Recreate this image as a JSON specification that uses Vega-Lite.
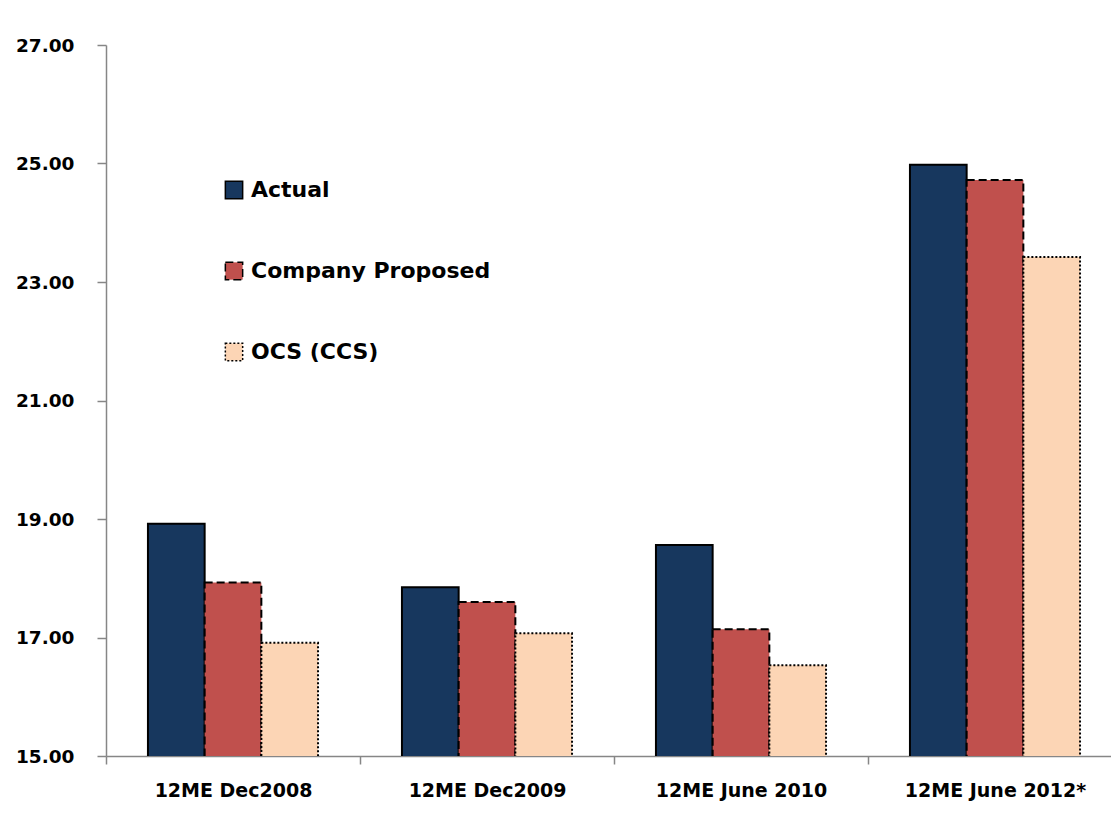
{
  "$schema": "https://vega.github.io/schema/vega-lite/v6.json",
  "autosize": {"type": "none"},
  "padding": {"left": 106, "top": 45, "right": 0, "bottom": 58},
  "width": 1016,
  "height": 711,
  "background": "white",
  "config": {"view": {"stroke": null}, "font": "DejaVu Sans"},
  "data": {
    "values": [
      {"period": "12ME Dec2008", "series": "Actual", "value": 18.92},
      {"period": "12ME Dec2008", "series": "Company Proposed", "value": 17.93},
      {"period": "12ME Dec2008", "series": "OCS (CCS)", "value": 16.91},
      {"period": "12ME Dec2009", "series": "Actual", "value": 17.85},
      {"period": "12ME Dec2009", "series": "Company Proposed", "value": 17.6},
      {"period": "12ME Dec2009", "series": "OCS (CCS)", "value": 17.07},
      {"period": "12ME June 2010", "series": "Actual", "value": 18.56},
      {"period": "12ME June 2010", "series": "Company Proposed", "value": 17.14},
      {"period": "12ME June 2010", "series": "OCS (CCS)", "value": 16.53},
      {"period": "12ME June 2012*", "series": "Actual", "value": 24.98},
      {"period": "12ME June 2012*", "series": "Company Proposed", "value": 24.72},
      {"period": "12ME June 2012*", "series": "OCS (CCS)", "value": 23.42}
    ]
  },
  "mark": {"type": "bar", "stroke": "black", "strokeWidth": 2, "clip": true},
  "encoding": {
    "x": {
      "field": "period",
      "type": "nominal",
      "sort": ["12ME Dec2008", "12ME Dec2009", "12ME June 2010", "12ME June 2012*"],
      "scale": {"paddingInner": 0, "paddingOuter": 0},
      "axis": {
        "title": null,
        "labelAngle": 0,
        "labelFont": "DejaVu Sans",
        "labelFontWeight": "bold",
        "labelFontSize": 19,
        "labelColor": "black",
        "labelPadding": 17,
        "labelLimit": 400,
        "domainColor": "#868686",
        "domainWidth": 1.5,
        "tickColor": "#868686",
        "tickWidth": 1.5,
        "tickSize": 8,
        "tickBand": "extent"
      }
    },
    "xOffset": {
      "field": "series",
      "type": "nominal",
      "sort": ["Actual", "Company Proposed", "OCS (CCS)"],
      "scale": {"paddingInner": 0, "paddingOuter": 0.74}
    },
    "y": {
      "field": "value",
      "type": "quantitative",
      "scale": {"domain": [15, 27], "zero": false, "nice": false},
      "axis": {
        "title": null,
        "values": [15, 17, 19, 21, 23, 25, 27],
        "format": ".2f",
        "grid": false,
        "labelFont": "DejaVu Sans",
        "labelFontWeight": "bold",
        "labelFontSize": 18.5,
        "labelColor": "black",
        "labelPadding": 23,
        "domainColor": "#868686",
        "domainWidth": 1.5,
        "tickColor": "#868686",
        "tickWidth": 1.5,
        "tickSize": 9
      }
    },
    "fill": {
      "field": "series",
      "type": "nominal",
      "scale": {
        "domain": ["Actual", "Company Proposed", "OCS (CCS)"],
        "range": ["#17375E", "#C0504D", "#FCD5B5"]
      },
      "legend": {
        "title": null,
        "orient": "none",
        "legendX": 117,
        "legendY": 134,
        "symbolType": "square",
        "symbolSize": 300,
        "symbolStrokeColor": "black",
        "symbolStrokeWidth": 1.5,
        "symbolOpacity": 1,
        "labelFont": "DejaVu Sans",
        "labelFontWeight": "bold",
        "labelFontSize": 22,
        "labelColor": "black",
        "labelOffset": 6,
        "labelLimit": 500,
        "rowPadding": 57,
        "encode": {
          "symbols": {
            "update": {
              "stroke": {"value": "black"},
              "strokeWidth": {"value": 1.5},
              "strokeDash": {"scale": "strokeDash", "field": "value"}
            }
          }
        }
      }
    },
    "strokeDash": {
      "field": "series",
      "type": "nominal",
      "scale": {
        "domain": ["Actual", "Company Proposed", "OCS (CCS)"],
        "range": [[1, 0], [8, 4], [2, 2]]
      },
      "legend": null
    }
  }
}
